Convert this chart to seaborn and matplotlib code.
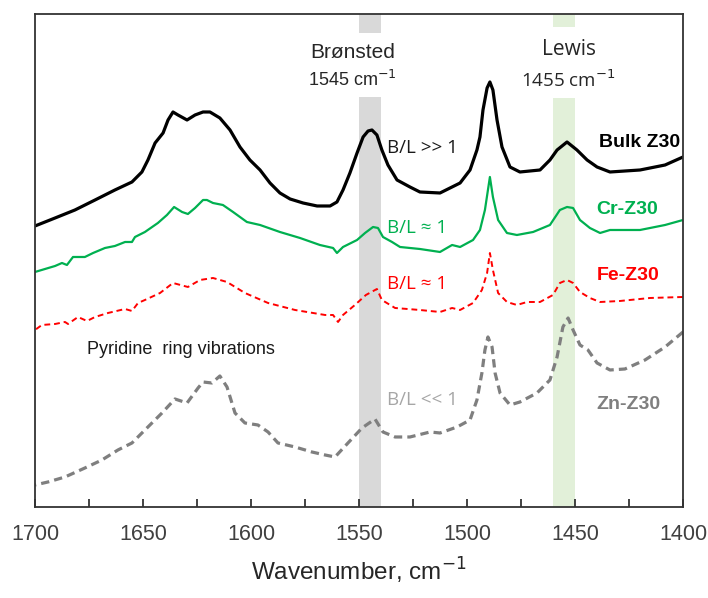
import numpy as np
import pandas as pd
import seaborn as sns
import matplotlib.pyplot as plt
from matplotlib.ticker import MultipleLocator

# FTIR of adsorbed pyridine, spectra offset vertically (a.u.)
bulk_wn = [1700, 1690.7, 1681.5, 1672.2, 1663.0, 1655.1, 1650.5, 1647.7, 1644.4, 1640.7,
           1638.4, 1636.1, 1633.8, 1629.6, 1625.9, 1622.2, 1619.0, 1614.4, 1609.7, 1605.1,
           1600.5, 1595.8, 1591.2, 1586.6, 1581.9, 1575.9, 1569.4, 1563.4, 1560.2, 1557.4,
           1554.2, 1550.9, 1548.1, 1545.8, 1544.0, 1541.7, 1539.4, 1536.6, 1532.4, 1526.4,
           1521.8, 1512.5, 1503.2, 1498.6, 1495.4, 1494.0, 1492.6, 1490.7, 1489.4, 1488.0,
           1486.1, 1483.8, 1480.1, 1475.5, 1466.2, 1461.6, 1458.3, 1453.7, 1449.1, 1444.4,
           1439.8, 1433.8, 1419.9, 1408.3, 1400]
bulk_abs = [2.81, 2.89, 2.97, 3.07, 3.17, 3.25, 3.35, 3.47, 3.64, 3.74,
            3.87, 3.95, 3.92, 3.87, 3.92, 3.95, 3.95, 3.89, 3.77, 3.60,
            3.47, 3.37, 3.24, 3.14, 3.08, 3.04, 3.01, 3.01, 3.05, 3.17,
            3.34, 3.54, 3.70, 3.76, 3.77, 3.72, 3.57, 3.42, 3.27, 3.20,
            3.15, 3.14, 3.24, 3.37, 3.57, 3.70, 3.97, 4.19, 4.25, 4.17,
            3.87, 3.60, 3.40, 3.35, 3.37, 3.47, 3.57, 3.65, 3.57, 3.47,
            3.40, 3.35, 3.37, 3.42, 3.50]

cr_wn = [1700, 1690.7, 1687.5, 1685.2, 1682.4, 1676.9, 1673.1, 1667.6, 1663.0, 1658.3,
         1655.1, 1653.7, 1649.1, 1643.1, 1638.9, 1635.6, 1631.9, 1629.2, 1625.9, 1622.2,
         1620.4, 1617.6, 1613.0, 1608.3, 1601.9, 1595.8, 1586.6, 1577.3, 1568.1, 1562.0,
         1560.2, 1557.4, 1550.9, 1547.2, 1543.5, 1541.2, 1538.9, 1534.7, 1531.0, 1521.8,
         1512.5, 1506.9, 1503.2, 1497.2, 1494.0, 1491.7, 1489.4, 1488.0, 1485.6, 1481.5,
         1476.9, 1469.4, 1461.6, 1457.0, 1453.7, 1450.9, 1447.7, 1443.1, 1438.4, 1433.8,
         1419.9, 1408.3, 1400]
cr_abs = [2.35, 2.41, 2.44, 2.42, 2.50, 2.50, 2.54, 2.59, 2.61, 2.65,
          2.65, 2.70, 2.75, 2.84, 2.92, 3.00, 2.95, 2.93, 2.99, 3.07,
          3.07, 3.04, 3.02, 2.95, 2.85, 2.82, 2.75, 2.69, 2.62, 2.59,
          2.54, 2.60, 2.67, 2.74, 2.80, 2.79, 2.70, 2.65, 2.60, 2.58,
          2.55, 2.62, 2.60, 2.67, 2.77, 2.97, 3.30, 3.10, 2.87, 2.74,
          2.72, 2.75, 2.82, 2.97, 3.00, 2.99, 2.87, 2.79, 2.74, 2.77,
          2.77, 2.82, 2.87]

fe_wn = [1700, 1696.8, 1690.7, 1686.1, 1684.7, 1680.1, 1675.9, 1672.2, 1666.2, 1658.3,
         1655.1, 1652.3, 1649.1, 1642.1, 1636.1, 1629.2, 1623.6, 1617.6, 1611.1, 1602.8,
         1592.1, 1579.6, 1565.7, 1562.0, 1559.7, 1557.4, 1551.9, 1546.8, 1541.7, 1539.4,
         1533.3, 1521.8, 1512.5, 1506.9, 1503.2, 1497.2, 1493.1, 1490.7, 1489.4, 1488.0,
         1485.6, 1481.5, 1476.9, 1472.2, 1466.2, 1460.2, 1457.0, 1453.7, 1450.9, 1447.7,
         1443.1, 1438.4, 1429.2, 1415.3, 1400]
fe_abs = [1.77, 1.82, 1.83, 1.85, 1.83, 1.90, 1.86, 1.90, 1.94, 1.98,
          1.96, 2.04, 2.07, 2.14, 2.24, 2.20, 2.27, 2.29, 2.25, 2.14,
          2.04, 1.97, 1.92, 1.92, 1.85, 1.92, 2.02, 2.12, 2.18, 2.07,
          1.99, 1.97, 1.95, 1.99, 1.97, 2.04, 2.17, 2.34, 2.54, 2.37,
          2.14, 2.05, 2.02, 2.05, 2.05, 2.12, 2.24, 2.27, 2.24, 2.15,
          2.09, 2.05, 2.06, 2.09, 2.10]

zn_wn = [1700, 1694.0, 1686.1, 1676.9, 1669.0, 1661.6, 1655.1, 1649.1, 1641.2, 1635.2,
         1629.6, 1624.5, 1622.2, 1618.1, 1614.4, 1611.1, 1607.4, 1602.8, 1596.8, 1592.1,
         1587.5, 1579.6, 1571.8, 1565.7, 1561.1, 1555.1, 1548.6, 1542.6, 1538.9, 1533.3,
         1526.4, 1517.1, 1512.5, 1504.6, 1498.6, 1495.4, 1493.1, 1491.7, 1490.3, 1488.4,
         1487.0, 1484.7, 1480.1, 1475.5, 1467.6, 1461.6, 1458.3, 1455.6, 1453.2, 1450.9,
         1447.7, 1444.0, 1439.8, 1433.8, 1426.9, 1417.6, 1408.3, 1400]
zn_abs = [0.22, 0.25, 0.30, 0.39, 0.47, 0.57, 0.64, 0.77, 0.94, 1.08,
          1.04, 1.19, 1.25, 1.24, 1.31, 1.20, 0.94, 0.84, 0.82, 0.75,
          0.64, 0.60, 0.55, 0.52, 0.50, 0.64, 0.79, 0.88, 0.75, 0.70,
          0.70, 0.75, 0.74, 0.80, 0.87, 1.07, 1.34, 1.57, 1.70, 1.60,
          1.34, 1.14, 1.02, 1.05, 1.14, 1.27, 1.50, 1.80, 1.89, 1.77,
          1.62, 1.57, 1.44, 1.37, 1.38, 1.47, 1.60, 1.75]

sns.set_style("white")
plt.rcParams['font.family'] = ['Liberation Sans', 'DejaVu Sans']

fig = plt.figure(figsize=(7.08, 5.98), dpi=100)
ax = fig.add_axes([0.0494, 0.1522, 0.9153, 0.8244])

# Brønsted / Lewis bands, broken where the labels sit
ax.axvspan(1550, 1540, ymin=0.0, ymax=0.832, color='#d9d9d9', lw=0, zorder=0)
ax.axvspan(1550, 1540, ymin=0.9615, ymax=1.0, color='#d9d9d9', lw=0, zorder=0)
ax.axvspan(1460, 1450, ymin=0.0, ymax=0.8296, color='#e2f0d9', lw=0, zorder=0)
ax.axvspan(1460, 1450, ymin=0.9736, ymax=1.0, color='#e2f0d9', lw=0, zorder=0)

kw = dict(solid_joinstyle='round', dash_joinstyle='round')
sns.lineplot(x=bulk_wn, y=bulk_abs, ax=ax, color='black', lw=2.3, **kw)
sns.lineplot(x=cr_wn, y=cr_abs, ax=ax, color='#00b050', lw=1.6, **kw)
sns.lineplot(x=fe_wn, y=fe_abs, ax=ax, color='#ff0000', lw=1.4, linestyle=(0, (3, 2)), **kw)
sns.lineplot(x=zn_wn, y=zn_abs, ax=ax, color='#7f7f7f', lw=2.3, linestyle=(0, (2.6, 1.6)), **kw)

ax.set_xlim(1700, 1400)
ax.set_ylim(0, 4.93)
ax.set_yticks([])
ax.xaxis.set_major_locator(MultipleLocator(50))
ax.xaxis.set_minor_locator(MultipleLocator(25))
ax.tick_params(axis='x', which='both', direction='in', length=6, width=1.2, color='#222222',
               labelsize=15.5, labelcolor='#404040', pad=12, bottom=True)
for s in ax.spines.values():
    s.set_color('#333333')
    s.set_linewidth(1.3)
ax.set_xlabel('Wavenumber, cm$^{-1}$', fontsize=17.5, color='#262626', labelpad=8)

hum = ['Open Sans', 'DejaVu Sans']
ax.text(1553, 4.54, 'Brønsted', ha='center', va='center', fontsize=15, color='#262626')
ax.text(1553, 4.27, '1545 cm$^{-1}$', ha='center', va='center', fontsize=13, color='#262626')
ax.text(1453, 4.57, 'Lewis', ha='center', va='center', fontsize=15, color='#262626', family=hum)
ax.text(1453, 4.27, '1455 cm$^{-1}$', ha='center', va='center', fontsize=13.5, color='#262626', family=hum)

ax.text(1537, 3.59, 'B/L >> 1', va='center', fontsize=13.5, color='#1a1a1a', family=hum)
ax.text(1537, 2.79, 'B/L ≈ 1', va='center', fontsize=13.5, color='#00b050', family=hum)
ax.text(1537, 2.23, 'B/L ≈ 1', va='center', fontsize=13.5, color='#ff0000', family=hum)
ax.text(1537, 1.07, 'B/L << 1', va='center', fontsize=13.5, color='#a6a6a6', family=hum)

ax.text(1439, 3.64, 'Bulk Z30', va='center', fontsize=14, fontweight='bold', color='black')
ax.text(1440, 2.97, 'Cr-Z30', va='center', fontsize=14, fontweight='bold', color='#00b050')
ax.text(1440, 2.31, 'Fe-Z30', va='center', fontsize=14, fontweight='bold', color='#ff0000')
ax.text(1440, 1.02, 'Zn-Z30', va='center', fontsize=14, fontweight='bold', color='#7f7f7f')

ax.text(1676, 1.57, 'Pyridine  ring vibrations', va='center', fontsize=13, color='#1a1a1a')

fig.savefig('out.png', dpi=100)
